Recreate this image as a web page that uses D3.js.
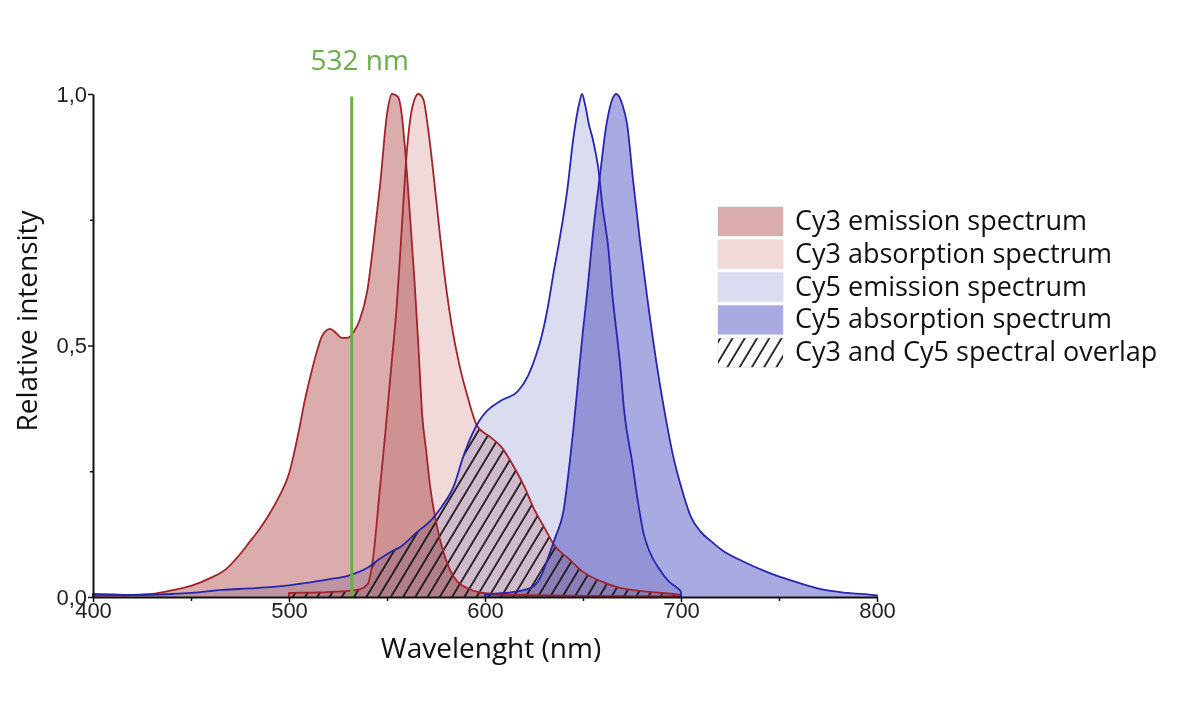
<!DOCTYPE html>
<html>
<head>
<meta charset="utf-8">
<script src="https://cdn.jsdelivr.net/npm/d3@7"></script>
<style>
  body { margin: 0; background: #fff; }
  svg { display: block; }
  .tick text { font-family: "Liberation Sans", Arial, sans-serif; font-size: 22px; fill: #222; }
  .title { font-family: "Open Sans", sans-serif; fill: #111; }
</style>
</head>
<body>
<div id="chart"></div>
<script>
// [wavelength nm, relative intensity]
const cy3Emission = [
  [400, 0.003], [420, 0.004], [430, 0.006], [440, 0.013], [450, 0.022], [460, 0.038],
  [468, 0.056], [475, 0.085], [480, 0.11], [485, 0.135], [490, 0.165], [495, 0.2],
  [500, 0.245], [505, 0.33], [508, 0.39], [511, 0.44], [514, 0.485],
  [517, 0.52], [521, 0.533], [524, 0.525], [527, 0.515], [530, 0.515], [533, 0.527],
  [536, 0.55], [540, 0.61], [543, 0.7], [546.5, 0.82], [550, 0.96], [552.5, 1.0],
  [555.5, 0.995], [557.5, 0.96], [559, 0.9], [561.5, 0.77], [564, 0.63], [566, 0.5],
  [568, 0.36], [570, 0.29], [572, 0.22], [575, 0.15], [578, 0.1], [582, 0.055],
  [586, 0.03], [591, 0.018], [596, 0.01], [601, 0.007], [620, 0.004], [660, 0.002], [700, 0.001]
];
const cy3Absorption = [
  [500, 0.008], [515, 0.009], [530, 0.012], [536, 0.015], [540, 0.025], [543, 0.08],
  [546, 0.2], [549, 0.32], [552, 0.45], [555, 0.58], [557.5, 0.73], [560, 0.88],
  [563, 0.975], [566, 1.0], [568.5, 0.99], [571, 0.93], [574, 0.83], [577, 0.72],
  [580, 0.62], [583, 0.54], [587, 0.46], [591, 0.4], [596, 0.34], [602, 0.32],
  [608, 0.3], [616, 0.25], [620, 0.22], [625, 0.175], [630, 0.14], [635, 0.105],
  [643, 0.075], [650, 0.05], [660, 0.03], [667, 0.02], [684, 0.01], [700, 0.004]
];
const cy5Emission = [
  [400, 0.006], [420, 0.004], [440, 0.006], [450, 0.008], [466, 0.014], [480, 0.017],
  [492, 0.02], [509, 0.028], [520, 0.035], [530, 0.042], [540, 0.058], [546, 0.075],
  [552, 0.09], [557, 0.1], [565, 0.128], [573, 0.155], [578, 0.18], [584, 0.22],
  [589, 0.28], [593, 0.32], [597, 0.35], [601, 0.37], [608, 0.39], [617, 0.41],
  [622, 0.44], [626, 0.48], [629, 0.52], [632, 0.575], [635, 0.645], [638, 0.71],
  [642, 0.81], [645, 0.91], [648, 0.98], [649.5, 1.0], [651, 0.98], [653, 0.94],
  [655, 0.91], [657.7, 0.855], [660, 0.775], [663, 0.69], [665, 0.6], [667, 0.53],
  [669, 0.46], [671, 0.37], [675, 0.27], [678, 0.19], [681, 0.125], [684, 0.09],
  [689, 0.055], [694, 0.03], [698, 0.018], [700, 0.01]
];
const cy5Absorption = [
  [600, 0.005], [610, 0.008], [620, 0.014], [625, 0.022], [629, 0.045], [633, 0.087],
  [636, 0.12], [640, 0.17], [643, 0.26], [645, 0.33], [647.5, 0.43], [650, 0.53],
  [652, 0.6], [655, 0.72], [658.7, 0.84], [662, 0.94], [665, 0.99], [667, 1.0],
  [670, 0.98], [672.5, 0.94], [675.5, 0.83], [679, 0.71], [682.6, 0.6], [687.7, 0.46],
  [692, 0.36], [696, 0.28], [700, 0.22], [705, 0.16], [710, 0.13], [715, 0.112],
  [721, 0.093], [732, 0.07], [747, 0.045], [757, 0.032], [772, 0.015], [785, 0.008], [800, 0.003]
];

const xTicks = [400, 500, 600, 700, 800];
const xMinorTicks = [450, 550, 650, 750];
const yTicks = [0, 0.5, 1];
const yMinorTicks = [0.25, 0.75];
const laserLine = 532;
const legendLabels = [
  "Cy3 emission spectrum",
  "Cy3 absorption spectrum",
  "Cy5 emission spectrum",
  "Cy5 absorption spectrum",
  "Cy3 and Cy5 spectral overlap"
];

const width = 1177, height = 709;
const fillRedDark = "#dbacac", fillRedLight = "#f1d9d9";
const fillBlueLight = "#dcdcf1", fillBlueDark = "#aaaae2";
const lineRed = "#a3232b", lineBlue = "#2626b0", green = "#6cae4a";

const x = d3.scaleLinear().domain([400, 800]).range([93, 877]);
const y = d3.scaleLinear().domain([0, 1]).range([597, 94]);

const svg = d3.select("#chart").append("svg")
    .attr("width", width)
    .attr("height", height);

svg.append("rect").attr("width", width).attr("height", height).attr("fill", "#fff");

const defs = svg.append("defs");
const hatch = defs.append("pattern")
    .attr("id", "hatch")
    .attr("patternUnits", "userSpaceOnUse")
    .attr("width", 10.5)
    .attr("height", 10.5)
    .attr("patternTransform", "rotate(31)");
hatch.append("line")
    .attr("x1", 2).attr("y1", 0).attr("x2", 2).attr("y2", 10.5)
    .attr("stroke", "#111")
    .attr("stroke-width", 1.7);

const area = d3.area()
    .x(d => x(d[0]))
    .y0(y(0))
    .y1(d => y(d[1]))
    .curve(d3.curveMonotoneX);
const line = d3.line()
    .x(d => x(d[0]))
    .y(d => y(d[1]))
    .curve(d3.curveMonotoneX);

// close the curves straight down to the baseline at both ends
const closed = s => [[s[0][0], 0]].concat(s, [[s[s.length - 1][0], 0]]);

const series = [
  { data: cy3Emission, fill: fillRedDark, stroke: lineRed },
  { data: cy3Absorption, fill: fillRedLight, stroke: lineRed },
  { data: cy5Emission, fill: fillBlueLight, stroke: lineBlue },
  { data: cy5Absorption, fill: fillBlueDark, stroke: lineBlue }
];

const fills = svg.append("g").style("isolation", "isolate");
fills.selectAll("path")
    .data(series)
    .enter().append("path")
    .attr("d", d => area(d.data))
    .attr("fill", d => d.fill)
    .style("mix-blend-mode", "multiply");

// overlap = area under both Cy3 absorption and Cy5 emission
defs.append("clipPath").attr("id", "clipCy5")
    .append("path").attr("d", area(cy5Emission));
svg.append("g")
    .attr("clip-path", "url(#clipCy5)")
    .append("path")
    .attr("d", area(cy3Absorption))
    .attr("fill", "url(#hatch)");

svg.append("g").selectAll("path")
    .data(series)
    .enter().append("path")
    .attr("d", d => line(closed(d.data)))
    .attr("fill", "none")
    .attr("stroke", d => d.stroke)
    .attr("stroke-width", 1.8)
    .attr("stroke-linejoin", "round");

// laser line
svg.append("line")
    .attr("x1", x(laserLine)).attr("x2", x(laserLine))
    .attr("y1", y(0.995)).attr("y2", y(0))
    .attr("stroke", green)
    .attr("stroke-width", 3);
svg.append("text")
    .attr("class", "title")
    .attr("x", x(laserLine) + 8)
    .attr("y", 70)
    .attr("text-anchor", "middle")
    .style("fill", green)
    .style("font-size", "28px")
    .text(laserLine + " nm");

// axes
svg.append("g")
    .attr("transform", `translate(0,${y(0)})`)
    .call(d3.axisBottom(x).tickValues(xTicks).tickSize(5).tickSizeOuter(0).tickPadding(0).tickFormat(d3.format("d")));
svg.append("g")
    .attr("transform", `translate(0,${y(0)})`)
    .call(d3.axisBottom(x).tickValues(xMinorTicks).tickSize(4).tickSizeOuter(0).tickFormat(""))
    .select(".domain").remove();
svg.append("g")
    .attr("transform", `translate(${x(400)},0)`)
    .call(d3.axisLeft(y).tickValues(yTicks).tickSize(5).tickSizeOuter(0).tickPadding(1)
        .tickFormat(d => d.toFixed(1).replace(".", ",")));
svg.append("g")
    .attr("transform", `translate(${x(400)},0)`)
    .call(d3.axisLeft(y).tickValues(yMinorTicks).tickSize(3).tickSizeOuter(0).tickFormat(""))
    .select(".domain").remove();
svg.selectAll(".domain").attr("stroke", "#111").attr("stroke-width", 2);
svg.selectAll(".tick line").attr("stroke", "#111").attr("stroke-width", 1.5);

svg.append("text")
    .attr("class", "title")
    .attr("x", 491)
    .attr("y", 658)
    .attr("text-anchor", "middle")
    .style("font-size", "28px")
    .text("Wavelenght (nm)");
svg.append("text")
    .attr("class", "title")
    .attr("transform", "translate(37,321) rotate(-90)")
    .attr("text-anchor", "middle")
    .style("font-size", "28px")
    .text("Relative intensity");

// legend
const legendFills = [fillRedDark, fillRedLight, fillBlueLight, fillBlueDark, "url(#hatch)"];
const legend = svg.append("g").attr("transform", "translate(718,207)");
const rows = legend.selectAll("g")
    .data(legendLabels)
    .enter().append("g")
    .attr("transform", (d, i) => `translate(0,${i * 32.8})`);
rows.append("rect")
    .attr("width", 65)
    .attr("height", 29)
    .attr("fill", "#fff")
    .attr("stroke", "#e4e4ee")
    .attr("stroke-width", 1);
rows.append("rect")
    .attr("width", 65)
    .attr("height", 29)
    .attr("fill", (d, i) => legendFills[i]);
rows.append("text")
    .attr("class", "title")
    .attr("x", 77)
    .attr("y", 23)
    .style("font-size", "27px")
    .text(d => d);
</script>
</body>
</html>
